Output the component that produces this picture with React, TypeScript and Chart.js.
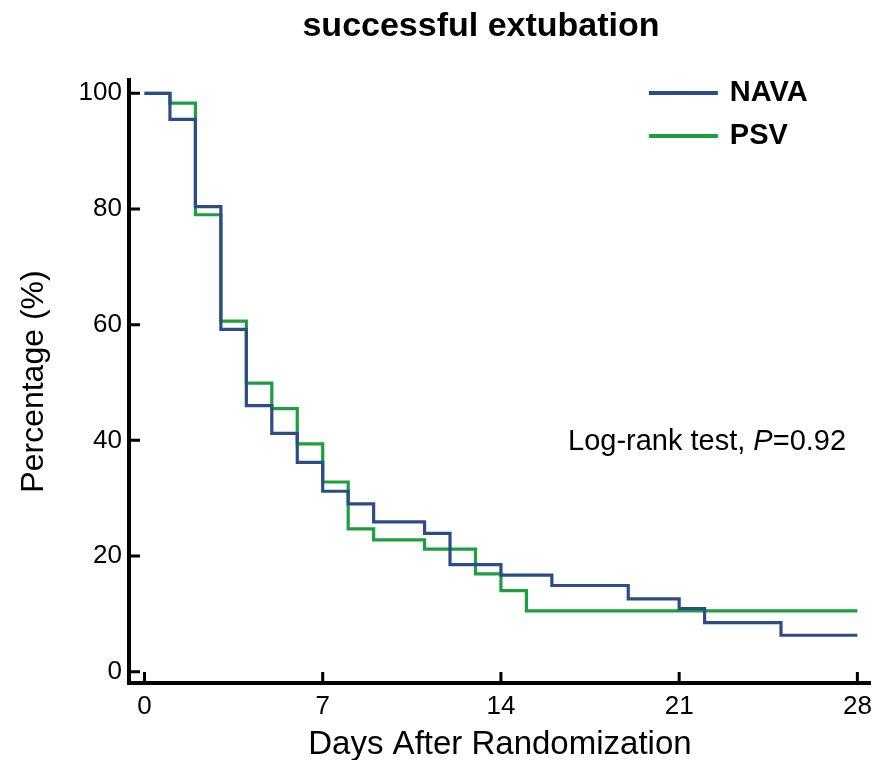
import { useEffect, useRef } from "react";
import { Chart, registerables } from "chart.js";

Chart.register(...registerables);

// Kaplan–Meier curves: days since randomization and % still not extubated
const titleText = "successful extubation";
const xAxisTitle = "Days After Randomization";
const yAxisTitle = "Percentage (%)";
const xTicks = [0, 7, 14, 21, 28];
const yTicks = [0, 20, 40, 60, 80, 100];

const navaLabel = "NAVA";
const navaDays = [0, 1, 2, 3, 4, 5, 6, 7, 8, 9, 11, 12, 14, 16, 19, 21, 22, 25, 28];
const navaPct = [100, 95.5, 80.4, 59.2, 46.0, 41.2, 36.2, 31.2, 29.0, 25.9, 23.9, 18.5, 16.7, 14.9, 12.6, 10.9, 8.5, 6.3, 6.3];

const psvLabel = "PSV";
const psvDays = [0, 1, 2, 3, 4, 5, 6, 7, 8, 9, 11, 13, 14, 15, 28];
const psvPct = [100, 98.3, 79.0, 60.6, 49.9, 45.5, 39.4, 32.8, 24.7, 22.8, 21.2, 16.9, 14.0, 10.5, 10.5];

const statPrefix = "Log-rank test, ";
const statSymbol = "P";
const statValue = "=0.92";

const FONT = '"Liberation Sans", Arial, Helvetica, sans-serif';
const NAVA_COLOR = "#2c4c86";
const PSV_COLOR = "#1c9f3e";

const toPoints = (days: number[], pct: number[]) => days.map((d, i) => ({ x: d, y: pct[i] }));

// Title, inward tick marks, legend and the test annotation
const decorPlugin = {
  id: "kmDecor",
  afterDraw(chart: any) {
    const { ctx, chartArea, scales } = chart;
    ctx.save();

    ctx.fillStyle = "#000";
    ctx.font = `bold 34px ${FONT}`;
    ctx.textAlign = "center";
    ctx.textBaseline = "alphabetic";
    ctx.fillText(titleText, 481, 36);

    ctx.strokeStyle = "#000";
    ctx.lineWidth = 3;
    ctx.beginPath();
    xTicks.forEach((v) => {
      const px = scales.x.getPixelForValue(v);
      ctx.moveTo(px, chartArea.bottom);
      ctx.lineTo(px, chartArea.bottom - 11);
    });
    yTicks.forEach((v) => {
      const py = scales.y.getPixelForValue(v);
      ctx.moveTo(chartArea.left, py);
      ctx.lineTo(chartArea.left + 11, py);
    });
    ctx.stroke();

    chart.data.datasets.forEach((ds: any, i: number) => {
      const y = chartArea.top + 13 + i * 43;
      ctx.strokeStyle = ds.borderColor;
      ctx.lineWidth = 4;
      ctx.beginPath();
      ctx.moveTo(chartArea.right - 222, y);
      ctx.lineTo(chartArea.right - 153, y);
      ctx.stroke();
      ctx.fillStyle = "#000";
      ctx.font = `bold 29px ${FONT}`;
      ctx.textAlign = "left";
      ctx.textBaseline = "middle";
      ctx.fillText(ds.label, chartArea.right - 141, y);
    });

    let x = chartArea.left + 439;
    const baseY = 450;
    ctx.fillStyle = "#000";
    ctx.textBaseline = "alphabetic";
    ctx.textAlign = "left";
    ctx.font = `29px ${FONT}`;
    ctx.fillText(statPrefix, x, baseY);
    x += ctx.measureText(statPrefix).width;
    ctx.font = `italic 29px ${FONT}`;
    ctx.fillText(statSymbol, x, baseY);
    x += ctx.measureText(statSymbol).width;
    ctx.font = `29px ${FONT}`;
    ctx.fillText(statValue, x, baseY);

    ctx.restore();
  },
};

export default function App() {
  const canvasRef = useRef<HTMLCanvasElement | null>(null);

  useEffect(() => {
    document.body.style.margin = "0";
    const canvas = canvasRef.current;
    if (!canvas) return;

    const chart = new Chart(canvas, {
      type: "line",
      data: {
        datasets: [
          {
            label: navaLabel,
            data: toPoints(navaDays, navaPct),
            borderColor: NAVA_COLOR,
            borderWidth: 3.2,
            pointRadius: 0,
            stepped: "before",
            fill: false,
          },
          {
            label: psvLabel,
            data: toPoints(psvDays, psvPct),
            borderColor: PSV_COLOR,
            borderWidth: 3.2,
            pointRadius: 0,
            stepped: "before",
            fill: false,
          },
        ],
      },
      options: {
        animation: false,
        responsive: false,
        maintainAspectRatio: false,
        layout: { padding: { top: 80, left: 0, right: 9, bottom: 0 } },
        plugins: {
          legend: { display: false },
          tooltip: { enabled: false },
          title: { display: false },
        },
        scales: {
          x: {
            type: "linear",
            min: -0.6087,
            max: 28.53,
            grid: { display: false, drawTicks: false },
            border: { display: true, color: "#000", width: 4 },
            ticks: {
              color: "#000",
              padding: 8,
              font: { family: FONT, size: 26 },
              maxRotation: 0,
            },
            afterBuildTicks: (scale: any) => {
              scale.ticks = xTicks.map((v) => ({ value: v }));
            },
            afterFit: (scale: any) => {
              scale.height = 77;
            },
            title: {
              display: true,
              text: xAxisTitle,
              color: "#000",
              font: { family: FONT, size: 33, lineHeight: 1.0 },
              padding: { top: 0, bottom: -1 },
            },
          },
          y: {
            type: "linear",
            min: -1.954,
            max: 102.3,
            grid: { display: false, drawTicks: false },
            border: { display: true, color: "#000", width: 4 },
            ticks: {
              color: "#000",
              padding: 7,
              font: { family: FONT, size: 26 },
            },
            afterBuildTicks: (scale: any) => {
              scale.ticks = yTicks.map((v) => ({ value: v }));
            },
            afterFit: (scale: any) => {
              scale.width = 129;
            },
            title: {
              display: true,
              text: yAxisTitle,
              color: "#000",
              font: { family: FONT, size: 32, lineHeight: 1.2 },
              padding: { top: 15, bottom: 0 },
            },
          },
        },
      },
      plugins: [decorPlugin],
    });

    return () => chart.destroy();
  }, []);

  return (
    <div style={{ width: 880, height: 760, background: "#fff" }}>
      <canvas ref={canvasRef} width={880} height={760} />
    </div>
  );
}
